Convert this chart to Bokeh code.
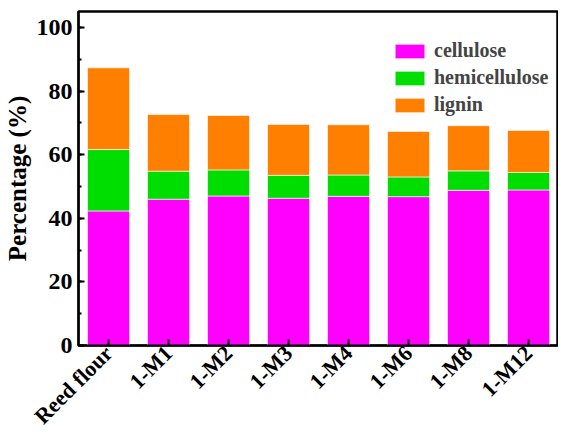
from math import pi
from bokeh.plotting import figure
from bokeh.models import FactorRange, Range1d, SingleIntervalTicker, Legend, LegendItem
from bokeh.embed import file_html
from bokeh.resources import INLINE

samples = ["Reed flour", "1-M1", "1-M2", "1-M3", "1-M4", "1-M6", "1-M8", "1-M12"]
cellulose = [42.3, 46.0, 47.0, 46.3, 46.9, 46.8, 48.8, 48.9]
hemicellulose = [19.3, 8.8, 8.2, 7.2, 6.7, 6.2, 6.1, 5.5]
lignin = [25.7, 17.8, 17.1, 16.0, 15.8, 14.3, 14.2, 13.2]
components = ["cellulose", "hemicellulose", "lignin"]
colors = ["#FF00FF", "#00DD00", "#FF8000"]

FONT = "Liberation Serif"

p = figure(x_range=FactorRange(*samples), y_range=Range1d(0, 105),
           width=558, height=440, output_backend="svg", toolbar_location=None,
           min_border_left=74, min_border_top=11, min_border_right=0, min_border_bottom=94)
p.outline_line_color = "black"
p.outline_line_width = 2.5
p.xgrid.visible = False
p.ygrid.visible = False
p.x_range.range_padding = 0.0

data = dict(samples=samples, cellulose=cellulose, hemicellulose=hemicellulose, lignin=lignin)
renderers = p.vbar_stack(components, x="samples", width=0.70, color=colors, source=data,
                         line_color="white", line_width=0.6)

# y axis
ya = p.yaxis[0]
ya.ticker = SingleIntervalTicker(interval=20, num_minor_ticks=2)
ya.axis_label = "Percentage (%)"
ya.axis_label_text_font = FONT
ya.axis_label_text_font_style = "bold"
ya.axis_label_text_font_size = "25px"
ya.axis_label_text_color = "black"
ya.axis_label_standoff = 3
ya.major_label_text_font = FONT
ya.major_label_text_font_style = "bold"
ya.major_label_text_font_size = "24px"
ya.major_label_text_color = "black"
ya.axis_line_width = 2
ya.major_tick_in = 6
ya.major_tick_out = 0
ya.minor_tick_in = 3
ya.minor_tick_out = 0
ya.major_tick_line_width = 2
ya.minor_tick_line_width = 2
ya.major_label_standoff = 6

# x axis
xa = p.xaxis[0]
xa.major_label_orientation = pi / 4
xa.major_label_text_font = FONT
xa.major_label_text_font_style = "bold"
xa.major_label_text_font_size = "22px"
xa.major_label_text_color = "black"
xa.axis_line_width = 2
xa.major_tick_in = 6
xa.major_tick_out = 0
xa.major_tick_line_width = 2
xa.major_label_standoff = 4

legend = Legend(items=[LegendItem(label=c, renderers=[r]) for c, r in zip(components, renderers)],
                location=(313, 229), orientation="vertical",
                glyph_width=37, glyph_height=18, spacing=4, padding=0, margin=0,
                label_standoff=6, border_line_color=None, background_fill_alpha=0,
                label_text_font=FONT, label_text_font_style="bold", label_text_font_size="20px",
                label_height=18)
p.add_layout(legend, "center")

open("out.html", "w").write(file_html(p, INLINE))
